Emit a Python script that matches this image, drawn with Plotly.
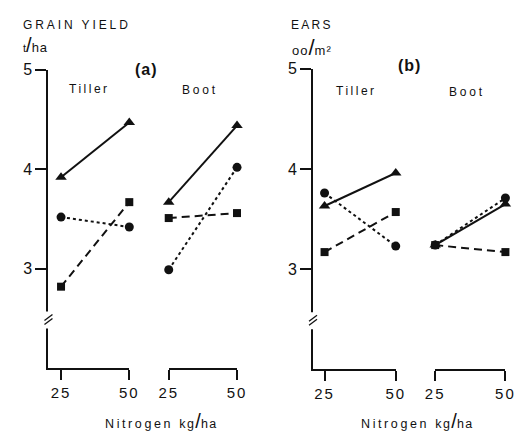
import plotly.graph_objects as go

# ---------------- data ----------------
nitrogen = [25, 50]
tick_labels = ["25", "50"]

yield_tiller_tri = [3.92, 4.47]
yield_tiller_circ = [3.52, 3.42]
yield_tiller_sq = [2.82, 3.67]
yield_boot_tri = [3.67, 4.44]
yield_boot_circ = [2.99, 4.02]
yield_boot_sq = [3.51, 3.56]

ears_tiller_tri = [3.63, 3.96]
ears_tiller_circ = [3.76, 3.23]
ears_tiller_sq = [3.17, 3.57]
ears_boot_tri = [3.24, 3.65]
ears_boot_circ = [3.24, 3.71]
ears_boot_sq = [3.24, 3.17]

y_ticks = [3, 4, 5]

W, H = 526, 435
FONT = "Liberation Sans, Arial, sans-serif"
INK = "#111111"


def px(x):
    return x / W


def py(y):
    return 1 - y / H


fig = go.Figure()

series_style = {
    "tri": dict(symbol="triangle-up", size=10, dash="solid"),
    "circ": dict(symbol="circle", size=9, dash="3px,3px"),
    "sq": dict(symbol="square", size=8, dash="8px,5px"),
}


def add(xaxis, yaxis, vals, kind):
    st = series_style[kind]
    fig.add_trace(go.Scatter(
        x=nitrogen, y=vals, xaxis=xaxis, yaxis=yaxis,
        mode="lines+markers", cliponaxis=False, showlegend=False,
        line=dict(color=INK, width=2, dash=st["dash"]),
        marker=dict(symbol=st["symbol"], size=st["size"], color=INK),
    ))


for vals, kind in [(yield_tiller_tri, "tri"), (yield_tiller_circ, "circ"), (yield_tiller_sq, "sq")]:
    add("x", "y", vals, kind)
for vals, kind in [(yield_boot_tri, "tri"), (yield_boot_circ, "circ"), (yield_boot_sq, "sq")]:
    add("x2", "y", vals, kind)
for vals, kind in [(ears_tiller_tri, "tri"), (ears_tiller_circ, "circ"), (ears_tiller_sq, "sq")]:
    add("x3", "y2", vals, kind)
for vals, kind in [(ears_boot_tri, "tri"), (ears_boot_circ, "circ"), (ears_boot_sq, "sq")]:
    add("x4", "y2", vals, kind)

xtext = ["<span style='letter-spacing:2px'>%s</span>" % t for t in tick_labels]


def xax(domain, rng, anchor):
    return dict(
        domain=domain, range=rng, anchor=anchor,
        showline=True, linewidth=2, linecolor=INK,
        ticks="outside", ticklen=10, tickwidth=2, tickcolor=INK,
        tickvals=nitrogen, ticktext=xtext,
        tickfont=dict(family=FONT, size=15, color=INK),
        showgrid=False, zeroline=False, fixedrange=True,
    )


def yax(domain, anchor):
    return dict(
        domain=domain, range=[2, 5], anchor=anchor,
        showline=True, linewidth=2, linecolor=INK,
        ticks="outside", ticklen=11, tickwidth=2, tickcolor=INK,
        tickvals=y_ticks, ticktext=[str(v) for v in y_ticks],
        tickfont=dict(family=FONT, size=16, color=INK),
        showgrid=False, zeroline=False, fixedrange=True,
    )


fig.update_layout(
    width=W, height=H,
    margin=dict(l=0, r=0, t=0, b=0),
    paper_bgcolor="white", plot_bgcolor="white",
    xaxis=xax([px(40), px(124)], [20.4, 50], "y"),
    xaxis2=xax([px(165), px(236)], [25, 50], "y"),
    xaxis3=xax([px(315), px(401)], [20.95, 50], "y2"),
    xaxis4=xax([px(442), px(515)], [25, 50], "y2"),
    yaxis=yax([py(367), py(63)], "x"),
    yaxis2=yax([py(368), py(62)], "x3"),
)

# axis break marks
shapes = []
for xr, yr in [("x domain", "y"), ("x3 domain", "y2")]:
    shapes.append(dict(type="rect", xref=xr, yref=yr, xsizemode="pixel", ysizemode="pixel",
                       xanchor=0, yanchor=2.49, x0=-3, x1=3, y0=-9, y1=8,
                       fillcolor="white", line=dict(width=0), layer="above"))
    for off in (-2, 2):
        shapes.append(dict(type="line", xref=xr, yref=yr, xsizemode="pixel", ysizemode="pixel",
                           xanchor=0, yanchor=2.49, x0=-4, x1=4, y0=off - 3, y1=off + 3,
                           line=dict(color=INK, width=1.3), layer="above"))
fig.update_layout(shapes=shapes)


def ls(text, sp):
    return "<span style='letter-spacing:%spx'>%s</span>" % (sp, text)


ann = []


def note(text, x, y, size=12, xanchor="center"):
    ann.append(dict(text=text, x=px(x), y=py(y), xref="paper", yref="paper",
                    xanchor=xanchor, yanchor="middle", showarrow=False,
                    font=dict(family=FONT, size=size, color=INK)))


note(ls("GRAIN YIELD", 2.9), 11, 17, 12, "left")
note("<span style='font-size:11px'>t</span><span style='font-size:20px'>/</span>"
     + ls("ha", 1), 11, 38, 13, "left")
note(ls("EARS", 2.3), 290, 17, 12, "left")
note(ls("oo", 1) + "<span style='font-size:22px'>/</span>" + ls("m²", 1), 291, 40, 13, "left")

note("<b>" + ls("(a)", 1) + "</b>", 142, 63, 16)
note("<b>" + ls("(b)", 1) + "</b>", 415, 59, 16)

note(ls("Tiller", 2.5), 83, 83, 12)
note(ls("Boot", 2.8), 197, 84, 12)
note(ls("Tiller", 2.5), 360, 85, 12)
note(ls("Boot", 2.8), 475, 86, 12)

nit = ls("Nitrogen ", 2.6) + ls("kg", 1.5) + "<span style='font-size:20px'>/</span>" + ls("ha", 1.5)
note(nit, 157, 421, 12.5)
note(nit, 424, 421, 12.5)

fig.update_layout(annotations=ann)

fig.write_html("out.html")
